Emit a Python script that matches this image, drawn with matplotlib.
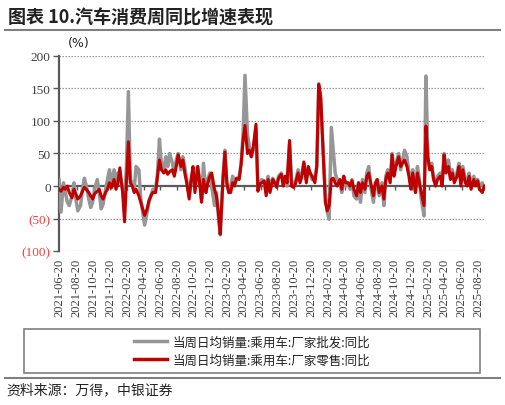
import pandas as pd
import numpy as np
import matplotlib
matplotlib.use('Agg')
import matplotlib.pyplot as plt
import matplotlib.dates as mdates
from matplotlib.patches import Rectangle
from matplotlib.lines import Line2D

plt.rcParams['font.family'] = ['Noto Sans CJK SC', 'DejaVu Sans']

# Fechas semanales (4 por mes), de 2021-06 a 2025-09
meses = pd.period_range('2021-06', '2025-09', freq='M')
fechas = [m.to_timestamp() + pd.Timedelta(days=d - 1) for m in meses for d in (3, 10, 17, 24)][2:-2]

# 当周日均销量:乘用车:厂家批发:同比 (%)
pifa = [
    10, -40,
    5, -10, -25, -30,  -15, 5, -20, -38,  -30, -5, 12, 0,
    -20, -33, -25, -5,  10, -10, -35, -28,  -5, 10, 25, 5,
    25, 5, 20, 15,  -5, -30, 30, 145,  10, 5, -5, 30,
    25, -20, -40, -60,  -40, -25, -15, -5,  -5, 20, 72, 35,
    25, 45, 30, 50,  35, 20, 40, 50,  25, 45, 30, 10,
    -15, 5, 25, 0,  30, 10, -20, 35,  -10, 10, 20, 0,
    -30, -10, -45, -75,  15, 55, 5, -10,  0, 15, 5, 10,
    15, 35, 80, 170,  80, 60, 45, 55,  88, -5, 5, 10,
    5, -10, 15, -5,  12, 5, 0, 15,  20, 5, 15, 0,
    65, 10, 0, 5,  25, 10, 20, 35,  10, 25, 20, 10,
    10, 30, 150, 135,  50, -10, -40, -51,  90, 55, 20, 10,
    5, -10, 15, 0,  5, -5, 10, -15,  -20, 5, -25, 10,
    -10, 20, 30, 0,  -25, 0, 10, -15,  5, -30, 15, 25,
    10, 50, 20, 35,  50, 25, 40, 55,  45, 20, 10, 25,
    -10, 30, 10, -20,  -46, 169, 40, 25,  35, 10, 5, 15,
    20, 5, 50, 30,  40, 15, 25, 10,  20, 35, 5, 30,
    10, 5, 20, 0,  15, 5, 10, 0,
    5, -5,
]

# 当周日均销量:乘用车:厂家零售:同比 (%)
lingshou = [
    -5, -8,
    -2, -5, 0, -10,  -18, -5, -12, -20,  -15, -8, -2, -5,
    -10, -15, -20, -12,  -8, -5, -15, -20,  -10, -5, 5, -3,
    10, -5, 5, 28,  -10, -55, 5, 68,  5, 0, -10, -5,
    -15, -25, -35, -45,  -35, -22, -15, -10,  -10, 15, 40, 25,
    20, 25, 18, 22,  25, 15, 30, 48,  30, 40, 20, 5,
    -20, 10, 30, -10,  30, 5, -25, 10,  -10, 5, 15, 20,
    -5, -15, -40, -74,  10, 52, 5, -10,  -10, 5, 0, 12,
    10, 34, 70, 93,  50, 55, 45, 60,  95, -8, 3, 5,
    8, -15, 10, -10,  10, 5, -2, 12,  18, 0, 15, 5,
    70, 0, -2, 3,  20, 5, 15, 37,  5, 30, 20, 15,
    5, 30, 157, 140,  45, -25, -38, -30,  10, 12, 5, 0,
    10, -5, 15, 5,  5, 0, 8, -5,  -15, 5, -10, 5,
    -5, 15, 20, 5,  -15, 5, 10, -10,  0, -20, 10, 20,
    5, 48, 15, 30,  45, 30, 35, 40,  30, 15, -5, 20,
    -10, 20, 5, -10,  -30, 92, 45, 25,  30, 10, 0, 10,
    15, 0, 48, 20,  30, 10, 20, 5,  15, 30, 0, 25,
    5, 0, 15, -5,  10, 0, 8, -5,
    -10, 0,
]

etiquetas = ['当周日均销量:乘用车:厂家批发:同比', '当周日均销量:乘用车:厂家零售:同比']
ticks_x = pd.date_range('2021-06-01', '2025-08-01', freq='2MS') + pd.Timedelta(days=19)
ticks_y = [-100, -50, 0, 50, 100, 150, 200]

gris = '#969696'
rojo = '#C00000'
oscuro = '#595959'

fig = plt.figure(figsize=(5.05, 4.06), dpi=100)
ax = fig.add_axes([0.117, 0.379, 0.843, 0.481])

ax.plot(fechas, pifa, color=gris, lw=2.5, zorder=3)
ax.plot(fechas, lingshou, color=rojo, lw=2.2, zorder=4)

ax.set_xlim(pd.Timestamp('2021-06-17'), pd.Timestamp('2025-09-12'))
ax.set_ylim(-100, 200)

# Eje y
ax.set_yticks(ticks_y)
ax.set_yticklabels([f'({-v})' if v < 0 else str(v) for v in ticks_y],
                   family='Liberation Serif', fontsize=9.5)
for lab, v in zip(ax.get_yticklabels(), ticks_y):
    lab.set_color('#FF3B3B' if v < 0 else '#404040')
ax.tick_params(axis='y', length=4, width=1, color=oscuro, pad=2)
for v in ticks_y:
    if v != 0:
        ax.axhline(v, color='#9a9a9a', lw=0.9, ls=(0, (1.2, 1.2)), zorder=1)
ax.axhline(0, color=oscuro, lw=1.6, zorder=2)

# Eje x: etiquetas abajo, marcas sobre la linea de cero
ax.set_xticks(ticks_x)
ax.set_xticklabels([t.strftime('%Y-%m-%d') for t in ticks_x], rotation=90,
                   family='Liberation Serif', fontsize=9, color='#404040')
ax.tick_params(axis='x', length=0, pad=5)
sec = ax.secondary_xaxis(1 / 3)
sec.set_xticks(mdates.date2num(ticks_x))
sec.set_xticklabels([])
sec.tick_params(axis='x', length=3, width=1, color=oscuro, direction='out')
sec.spines['bottom'].set_visible(False)
sec.spines['top'].set_visible(False)

for s in ['top', 'right', 'bottom']:
    ax.spines[s].set_visible(False)
ax.spines['left'].set_color(oscuro)
ax.spines['left'].set_linewidth(1.6)

ax.text(0.02, 1.035, '(%)', transform=ax.transAxes, fontsize=9,
        family='DejaVu Sans', color='#222222', ha='left', va='bottom')

# Titulo y lineas
fig.text(0.016, 0.955, '图表 10.汽车消费周同比增速表现', fontsize=13, fontweight='bold',
         color='#222222', ha='left', va='center')
fig.add_artist(Line2D([0.01, 0.99], [0.923, 0.923], color='#7f7f7f', lw=1.5))
fig.add_artist(Line2D([0.01, 0.99], [0.066, 0.066], color='#7f7f7f', lw=1.5))

# Leyenda
fig.add_artist(Rectangle((0.048, 0.080), 0.903, 0.106, transform=fig.transFigure,
                         fill=False, edgecolor='#7f7f7f', lw=1.2))
handles = [Line2D([], [], color=gris, lw=2.5), Line2D([], [], color=rojo, lw=2.5)]
fig.legend(handles, etiquetas, loc='center', bbox_to_anchor=(0.5, 0.133), frameon=False,
           fontsize=9, handlelength=2.6, handletextpad=0.5, labelspacing=0.45,
           labelcolor='#222222')

fig.text(0.012, 0.038, '资料来源：万得，中银证券', fontsize=10, color='#222222',
         ha='left', va='center')

fig.savefig('out.png', dpi=100)
